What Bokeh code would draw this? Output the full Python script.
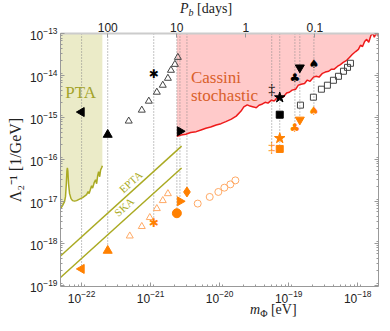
import numpy as np
from bokeh.plotting import figure
from bokeh.layouts import column
from bokeh.models import (Range1d, LogAxis, FixedTicker, LogTicker,
                          CustomJSTickFormatter, Div)
from bokeh.core.properties import value
from bokeh.embed import file_html
from bokeh.resources import INLINE

# ---------------- data ----------------
X_MIN, X_MAX = 4.95e-23, 2.0e-18
Y_MIN, Y_MAX = 9.3e-20, 1e-13
# m [eV] * P_b [days] = pi * hbar
PI_HBAR_EV_DAY = np.pi * 6.582119569e-16 / 86400.0
pb_ticks = [100, 10, 1, 0.1]

# PTA sensitivity curve (log10 m, log10 Lambda)
pta_log_m = [-22.305, -22.276, -22.247, -22.233, -22.221, -22.212, -22.206, -22.199, -22.189,
             -22.174, -22.153, -22.131, -22.102, -22.073, -22.044, -22.015, -21.985, -21.956,
             -21.927, -21.906, -21.891, -21.869, -21.855, -21.840, -21.818, -21.797, -21.782,
             -21.767, -21.753, -21.738, -21.724, -21.709, -21.699]
pta_log_L = [-17.174, -17.102, -17.008, -16.889, -16.581, -16.272, -16.201, -16.272, -16.581,
             -16.818, -16.936, -16.984, -16.996, -16.984, -16.960, -16.936, -16.913, -16.877,
             -16.842, -16.770, -16.818, -16.699, -16.628, -16.687, -16.557, -16.486, -16.581,
             -16.391, -16.296, -16.415, -16.249, -16.201, -16.154]

# Cassini stochastic bound (log10 m, log10 Lambda)
cas_log_m = [-20.62, -20.56, -20.49, -20.42, -20.34, -20.27, -20.20, -20.13, -20.05, -19.98,
             -19.91, -19.83, -19.76, -19.69, -19.65, -19.60, -19.56, -19.51, -19.47, -19.43,
             -19.38, -19.34, -19.30, -19.25, -19.21, -19.17, -19.12, -19.08, -19.03, -18.99,
             -18.95, -18.90, -18.86, -18.82, -18.77, -18.73, -18.69, -18.64, -18.60, -18.56,
             -18.51, -18.47, -18.42, -18.38, -18.34, -18.29, -18.25, -18.21, -18.16, -18.12,
             -18.08, -18.03, -17.99, -17.96, -17.93, -17.90, -17.87, -17.84, -17.81, -17.78,
             -17.76, -17.73, -17.70]
cas_log_L = [-15.45, -15.42, -15.40, -15.36, -15.34, -15.30, -15.26, -15.23, -15.18, -15.15,
             -15.10, -15.04, -14.97, -14.85, -14.75, -14.70, -14.73, -14.75, -14.77, -14.71,
             -14.68, -14.64, -14.66, -14.59, -14.61, -14.54, -14.49, -14.52, -14.42, -14.40,
             -14.35, -14.33, -14.23, -14.21, -14.19, -14.11, -14.14, -14.04, -14.02, -14.04,
             -13.95, -13.92, -13.90, -13.85, -13.85, -13.78, -13.74, -13.69, -13.64, -13.57,
             -13.50, -13.43, -13.38, -13.28, -13.31, -13.19, -13.14, -13.21, -13.05, -13.00,
             -13.09, -12.98, -13.07]

# EPTA / SKA lines
epta_m = [4.95e-23, 2.81e-21]
epta_L = [4.95e-19, 2.06e-16]
ska_m = [4.95e-23, 2.81e-21]
ska_L = [1.52e-19, 6.2e-17]

# pulsar lines (m) and lowest marker on each
vline_m = [1.0e-22, 2.39e-22, 1.11e-21, 2.40e-21, 2.66e-21, 3.36e-21, 5.68e-20, 7.42e-20,
           1.23e-19, 1.45e-19, 2.32e-19]
vline_low = [2.44e-19, 6.65e-19, 2.96e-18, 5.19e-18, 1.0e-17, 1.67e-17, 1.93e-16, 1.77e-16,
             5.49e-16, 8.79e-16, 1.44e-15]

# black markers
bk_ltri_m, bk_ltri_L = [1.0e-22], [1.34e-15]
bk_utri_m, bk_utri_L = [2.39e-22], [3.87e-16]
bk_ast_m, bk_ast_L = [1.11e-21], [1.07e-14]
bk_rtri_m, bk_rtri_L = [2.66e-21], [4.67e-16]
bk_dag_m, bk_dag_L = [5.68e-20], [4.70e-15]
bk_star_m, bk_star_L = [7.42e-20], [2.98e-15]
bk_sq_m, bk_sq_L = [7.42e-20], [1.16e-15]
bk_club_m, bk_club_L = [1.23e-19], [8.57e-15]
bk_dtri_m, bk_dtri_L = [1.45e-19], [1.54e-14]
bk_spade_m, bk_spade_L = [2.32e-19], [1.91e-14]

# orange markers
or_ltri_m, or_ltri_L = [1.0e-22], [2.44e-19]
or_utri_m, or_utri_L = [2.39e-22], [6.65e-19]
or_ast_m, or_ast_L = [1.11e-21], [2.96e-18]
or_circ_m, or_circ_L = [2.40e-21], [5.19e-18]
or_rtri_m, or_rtri_L = [2.66e-21], [1.0e-17]
or_diam_m, or_diam_L = [3.36e-21], [1.67e-17]
or_dag_m, or_dag_L = [5.68e-20], [1.93e-16]
or_star_m, or_star_L = [7.42e-20], [3.18e-16]
or_sq_m, or_sq_L = [7.42e-20], [1.77e-16]
or_club_m, or_club_L = [1.23e-19], [5.49e-16]
or_dtri_m, or_dtri_L = [1.45e-19], [8.79e-16]
or_spade_m, or_spade_L = [2.32e-19], [1.44e-15]

# open-marker series
bk_otri_m = [4.82e-22, 7.45e-22, 9.42e-22, 1.23e-21, 1.50e-21, 1.78e-21, 1.97e-21, 2.25e-21, 2.48e-21]
bk_otri_L = [8.18e-16, 1.49e-15, 2.44e-15, 3.99e-15, 5.85e-15, 8.57e-15, 1.33e-14, 1.84e-14, 2.70e-14]
or_otri_m = [4.99e-22, 7.45e-22, 9.73e-22, 1.23e-21, 1.50e-21, 1.78e-21]
or_otri_L = [1.49e-18, 2.51e-18, 4.10e-18, 6.70e-18, 1.04e-17, 1.52e-17]
or_ocirc_m = [4.81e-21, 7.18e-21, 9.57e-21, 1.17e-20, 1.43e-20, 1.69e-20]
or_ocirc_L = [8.81e-18, 1.27e-17, 1.67e-17, 2.11e-17, 2.53e-17, 3.15e-17]
bk_osq_m = [1.48e-19, 2.28e-19, 2.98e-19, 3.64e-19, 4.45e-19, 5.26e-19, 6.22e-19, 7.11e-19, 7.85e-19]
bk_osq_L = [1.96e-15, 3.03e-15, 4.70e-15, 5.85e-15, 7.67e-15, 9.55e-15, 1.26e-14, 1.56e-14, 1.95e-14]

# ---------------- styles ----------------
ORANGE = "#ff8000"
ORANGE_OPEN = "#ffaa66"
OLIVE = "#aaaa22"
PTA_FILL = "#ebebc8"
PINK = "#ffcaca"
RED = "#ee1a1a"
AXIS_C = "#999999"
SERIF = "Liberation Serif"
SANS = "Liberation Sans"

p = figure(width=390, height=287, x_axis_type="log", y_axis_type="log",
           x_range=Range1d(X_MIN, X_MAX), y_range=Range1d(Y_MIN, Y_MAX),
           output_backend="svg", toolbar_location=None,
           min_border_left=60, min_border_right=12, min_border_top=15, min_border_bottom=17)
p.xgrid.visible = False
p.ygrid.visible = False
p.outline_line_color = None

# top axis: orbital period P_b (ticks placed at the masses m = pi*hbar/P_b)
top = LogAxis(ticker=FixedTicker(ticks=[PI_HBAR_EV_DAY / pb for pb in pb_ticks]),
              formatter=CustomJSTickFormatter(
                  code="const P = %r / tick; return P >= 1 ? P.toFixed(0) : P.toFixed(1);"
                  % PI_HBAR_EV_DAY))
p.add_layout(top, "above")
right = LogAxis(ticker=LogTicker(num_minor_ticks=9),
                formatter=CustomJSTickFormatter(code="return '';"))
p.add_layout(right, "right")
p.below[0].ticker = LogTicker(num_minor_ticks=9)
p.left[0].ticker = LogTicker(num_minor_ticks=9)

for ax in [p.below[0], p.left[0], right, top]:
    ax.major_tick_in = 4
    ax.major_tick_out = 0
    ax.minor_tick_in = 2
    ax.minor_tick_out = 0
    ax.axis_line_color = AXIS_C
    ax.major_tick_line_color = AXIS_C
    ax.minor_tick_line_color = AXIS_C
    ax.major_label_text_font = SANS
    ax.major_label_text_font_size = "12px"
    ax.major_label_text_color = "#222222"
    ax.major_label_standoff = 3
top.minor_tick_in = 0
top.axis_line_color = "#cccccc"
top.axis_line_width = 2
top.major_label_standoff = 2
right.major_label_standoff = 0
p.left[0].axis_label = "Λ₂⁻¹ [1/GeV]"
p.left[0].axis_label_text_font = SERIF
p.left[0].axis_label_text_font_style = "normal"
p.left[0].axis_label_text_font_size = "16px"
p.left[0].axis_label_text_color = "#222222"
p.left[0].axis_label_standoff = 3

# ---------------- regions ----------------
pta_m = list(10 ** np.array(pta_log_m))
pta_L = list(10 ** np.array(pta_log_L))
p.patch([pta_m[0]] + pta_m + [pta_m[-1]], [Y_MAX] + pta_L + [Y_MAX],
        fill_color=PTA_FILL, line_color=None)

cas_m = list(10 ** np.array(cas_log_m))
cas_L = list(10 ** np.array(cas_log_L))
p.patch([cas_m[0]] + cas_m + [cas_m[-1], X_MAX * 1.2, X_MAX * 1.2],
        [Y_MAX * 1.5] + cas_L + [Y_MAX * 1.5, Y_MAX * 1.5, Y_MAX * 1.5],
        fill_color=PINK, line_color=None)

# vertical dotted pulsar lines
p.segment(vline_m, [Y_MAX] * len(vline_m), vline_m, vline_low,
          line_color="#888888", line_dash="1 2", line_width=1)

p.line(pta_m, pta_L, line_color=OLIVE, line_width=1.5)
p.line(cas_m, cas_L, line_color=RED, line_width=1.5)
p.line(epta_m, epta_L, line_color=OLIVE, line_width=1.5)
p.line(ska_m, ska_L, line_color=OLIVE, line_width=1.5)

# ---------------- markers ----------------
p.scatter(bk_otri_m, bk_otri_L, marker="triangle", size=7, fill_color=None,
          line_color="#444444", line_width=1)
p.scatter(or_otri_m, or_otri_L, marker="triangle", size=7, fill_color=None,
          line_color=ORANGE_OPEN, line_width=1)
p.scatter(or_ocirc_m, or_ocirc_L, marker="circle", size=7, fill_color=None,
          line_color=ORANGE_OPEN, line_width=1)
p.scatter(bk_osq_m, bk_osq_L, marker="square", size=6, fill_color=None,
          line_color="#444444", line_width=1)

def tri(xs, ys, ang, col):
    p.scatter(xs, ys, marker="triangle", angle=ang, size=9, color=col)

for col, ml, ul, rl in [("black", (bk_ltri_m, bk_ltri_L), (bk_utri_m, bk_utri_L), (bk_rtri_m, bk_rtri_L)),
                        (ORANGE, (or_ltri_m, or_ltri_L), (or_utri_m, or_utri_L), (or_rtri_m, or_rtri_L))]:
    tri(ml[0], ml[1], np.pi / 2, col)
    tri(ul[0], ul[1], 0.0, col)
    tri(rl[0], rl[1], -np.pi / 2, col)

p.scatter(bk_dtri_m, bk_dtri_L, marker="inverted_triangle", size=9, color="black")
p.scatter(or_dtri_m, or_dtri_L, marker="inverted_triangle", size=9, color=ORANGE)
p.scatter(bk_star_m, bk_star_L, marker="star", size=11, color="black")
p.scatter(or_star_m, or_star_L, marker="star", size=11, color=ORANGE)
p.scatter(bk_sq_m, bk_sq_L, marker="square", size=7, color="black")
p.scatter(or_sq_m, or_sq_L, marker="square", size=7, color=ORANGE)
p.scatter(or_circ_m, or_circ_L, marker="circle", size=9, color=ORANGE)
p.scatter(or_diam_m, or_diam_L, marker="diamond", size=10, color=ORANGE)

def sym(xs, ys, ch, col, font, size):
    p.text(xs, ys, text=[ch] * len(xs), text_align="center", text_baseline="middle",
           text_font=value(font), text_font_size=size, text_color=col)

sym(bk_ast_m, bk_ast_L, "✱", "black", "DejaVu Sans", "12px")
sym(or_ast_m, or_ast_L, "✱", ORANGE, "DejaVu Sans", "12px")
sym(bk_dag_m, bk_dag_L, "‡", "black", SERIF, "14px")
sym(or_dag_m, or_dag_L, "‡", ORANGE, SERIF, "14px")
sym(bk_club_m, bk_club_L, "♣", "black", "DejaVu Sans", "12px")
sym(or_club_m, or_club_L, "♣", ORANGE, "DejaVu Sans", "12px")
sym(bk_spade_m, bk_spade_L, "♠", "black", "DejaVu Sans", "12px")
sym(or_spade_m, or_spade_L, "♠", ORANGE, "DejaVu Sans", "12px")

# ---------------- texts inside the frame ----------------
def txt(x, y, t, col, size, align="left", baseline="alphabetic", angle=0.0):
    p.text([x], [y], text=[t], text_color=col, text_font=value(SERIF),
           text_font_size=size, text_align=align, text_baseline=baseline, angle=angle)

txt(9.7e-23, 3.85e-15, "PTA", "#a3a32a", "17px", align="center", baseline="middle")
txt(3.84e-21, 8.73e-15, "Cassini", "#d9602b", "17px")
txt(3.84e-21, 3.36e-15, "stochastic", "#d9602b", "17px")
txt(5.15e-22, 2.9e-17, "EPTA", OLIVE, "11px", align="center", baseline="middle", angle=0.741)
txt(4.12e-22, 7.4e-18, "SKA", OLIVE, "11px", align="center", baseline="middle", angle=0.741)

# ---------------- axis titles (HTML, above and below the plot) ----------------
SPAN = ("position:absolute;left:%dpx;top:%dpx;font-family:'Liberation Serif';"
        "font-size:14px;color:#222;white-space:nowrap;line-height:%dpx;")
top_title = Div(width=390, height=18, margin=(0, 0, 0, 0),
                text='<div style="position:relative;width:390px;height:18px;">'
                     '<span style="' + SPAN % (180, 1, 16) + '"><i>P</i>'
                     '<span style="font-size:10px;position:relative;top:3px;"><i>b</i></span>'
                     '&nbsp;[days]</span></div>')
bottom_title = Div(width=390, height=26, margin=(0, 0, 0, 0),
                   text='<div style="position:relative;width:390px;height:26px;">'
                        '<span style="' + SPAN % (250, 0, 10) + '"><i>m</i>'
                        '<span style="font-size:10px;position:relative;top:3px;">Φ</span>'
                        '&nbsp;[eV]</span></div>')

layout = column(top_title, p, bottom_title, spacing=0)
open("out.html", "w").write(file_html(layout, INLINE))
